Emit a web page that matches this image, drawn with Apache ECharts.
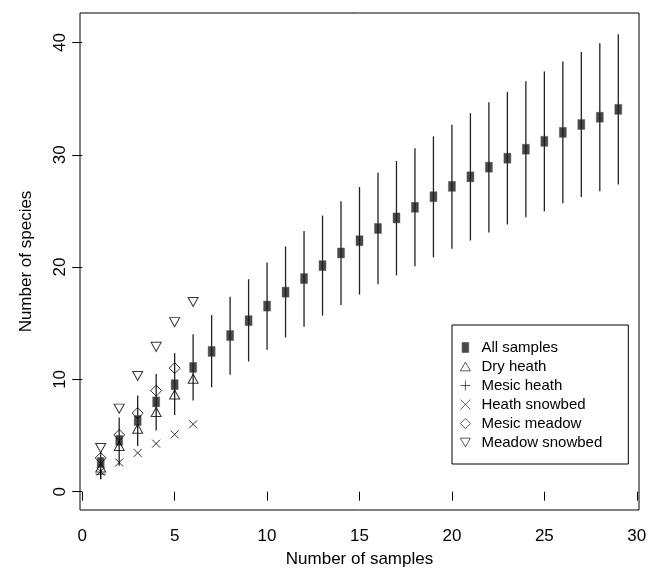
<!DOCTYPE html>
<html>
<head>
<meta charset="utf-8">
<script src="https://cdn.jsdelivr.net/npm/echarts@6.0.0/dist/echarts.min.js"></script>
<style>
  html, body { margin: 0; padding: 0; background: #fff; }
  #chart { width: 660px; height: 573px; }
</style>
</head>
<body>
<div id="chart"></div>
<script>
// rarefaction: all samples (mean with range bars) + single habitats
var samples = [1, 2, 3, 4, 5, 6, 7, 8, 9, 10, 11, 12, 13, 14, 15, 16, 17, 18, 19, 20, 21, 22, 23, 24, 25, 26, 27, 28, 29];
var allMean = [2.6, 4.57, 6.34, 8.0, 9.53, 11.07, 12.49, 13.91, 15.23, 16.53, 17.77, 18.98, 20.13, 21.26, 22.35, 23.44, 24.38, 25.33, 26.27, 27.19, 28.04, 28.9, 29.7, 30.5, 31.2, 32.0, 32.7, 33.35, 34.05];
var allLow = [1.11, 2.3, 4.07, 5.46, 6.82, 8.12, 9.3, 10.42, 11.6, 12.63, 13.73, 14.7, 15.68, 16.62, 17.56, 18.48, 19.27, 20.07, 20.87, 21.64, 22.37, 23.08, 23.79, 24.45, 24.97, 25.68, 26.25, 26.76, 27.36];
var allHigh = [3.5, 6.6, 8.56, 10.48, 12.34, 14.02, 15.73, 17.36, 18.92, 20.4, 21.84, 23.21, 24.59, 25.86, 27.13, 28.4, 29.46, 30.58, 31.65, 32.68, 33.71, 34.69, 35.6, 36.55, 37.43, 38.32, 39.15, 39.94, 40.74];

var dryHeath = [2.15, 4.07, 5.6, 7.1, 8.65, 10.06];
var mesicHeath = [1.56];
var heathSnowbed = [1.8, 2.6, 3.45, 4.28, 5.1, 6.0];
var mesicMeadow = [3.0, 5.05, 7.0, 9.0, 11.0];
var meadowSnowbed = [3.9, 7.4, 10.3, 12.9, 15.1, 16.9];

var xTicks = [0, 5, 10, 15, 20, 25, 30];
var yTicks = [0, 10, 20, 30, 40];

var FONT = '"Liberation Sans", Arial, Helvetica, sans-serif';

function pairs(vals) {
    var out = [];
    for (var i = 0; i < vals.length; i++) out.push([samples[i], vals[i]]);
    return out;
}

var barData = [];
for (var i = 0; i < samples.length; i++) {
    barData.push([samples[i], allLow[i], allHigh[i]]);
}

var open = { color: 'rgba(0,0,0,0)', borderColor: '#000', borderWidth: 1 };

function habitat(name, vals, symbol, size) {
    return {
        name: name,
        type: 'scatter',
        data: pairs(vals),
        symbol: symbol,
        symbolSize: size,
        itemStyle: open,
        z: 4
    };
}

var chart = echarts.init(document.getElementById('chart'), null, { renderer: 'canvas' });

chart.setOption({
    animation: false,
    backgroundColor: '#fff',
    textStyle: { fontFamily: FONT },
    grid: {
        left: 80, right: 21, top: 13, bottom: 60,
        show: true, borderColor: '#000', borderWidth: 1
    },
    legend: {
        left: 452, top: 325,
        orient: 'vertical',
        padding: [15, 26, 14, 8],
        itemWidth: 10, itemHeight: 10, itemGap: 4,
        itemStyle: { borderWidth: 0.8 },
        borderColor: '#000', borderWidth: 1,
        backgroundColor: '#fff',
        textStyle: { fontFamily: FONT, fontSize: 15, color: '#000', padding: [0, 0, 0, 6] },
        data: [
            { name: 'All samples', icon: 'path://M0,0H6V9H0Z' },
            'Dry heath', 'Mesic heath', 'Heath snowbed', 'Mesic meadow', 'Meadow snowbed'
        ]
    },
    xAxis: {
        type: 'value',
        min: -0.12, max: 30.12,
        name: 'Number of samples',
        nameLocation: 'middle',
        nameGap: 41,
        nameTextStyle: { fontFamily: FONT, fontSize: 17, color: '#000' },
        axisLine: { show: false },
        axisTick: { show: true, customValues: xTicks, length: 9, lineStyle: { color: '#000' } },
        axisLabel: { customValues: xTicks, margin: 18, fontSize: 17, color: '#000', fontFamily: FONT },
        splitLine: { show: false }
    },
    yAxis: {
        type: 'value',
        min: -1.63, max: 42.63,
        name: 'Number of species',
        nameLocation: 'middle',
        nameGap: 45,
        nameTextStyle: { fontFamily: FONT, fontSize: 17, color: '#000' },
        axisLine: { show: false },
        axisTick: { show: true, customValues: yTicks, length: 10, lineStyle: { color: '#000' } },
        axisLabel: { customValues: yTicks, rotate: 90, margin: 11, fontSize: 17, color: '#000', fontFamily: FONT },
        splitLine: { show: false }
    },
    series: [
        {
            name: 'range',
            type: 'custom',
            data: barData,
            encode: { x: 0, y: [1, 2] },
            z: 1,
            renderItem: function(params, api) {
                var top = api.coord([api.value(0), api.value(2)]);
                var bot = api.coord([api.value(0), api.value(1)]);
                return {
                    type: 'line',
                    shape: { x1: top[0], y1: top[1], x2: bot[0], y2: bot[1] },
                    style: { stroke: '#222', lineWidth: 1.3 }
                };
            }
        },
        {
            name: 'All samples',
            type: 'scatter',
            data: pairs(allMean),
            symbol: 'rect',
            symbolSize: [7, 10],
            itemStyle: { color: '#1b1b1b', borderColor: '#555', borderWidth: 0.5 },
            z: 3
        },
        habitat('Dry heath', dryHeath, 'path://M5,0L10,8.66L0,8.66Z', [10, 9]),
        habitat('Mesic heath', mesicHeath, 'path://M0,5L10,5M5,0L5,10', [10, 10]),
        habitat('Heath snowbed', heathSnowbed, 'path://M0,0L10,10M10,0L0,10', [8, 8]),
        habitat('Mesic meadow', mesicMeadow, 'path://M5,0L10,5L5,10L0,5Z', [11, 11]),
        habitat('Meadow snowbed', meadowSnowbed, 'path://M0,0L10,0L5,8.66Z', [10, 9])
    ]
});
</script>
</body>
</html>
